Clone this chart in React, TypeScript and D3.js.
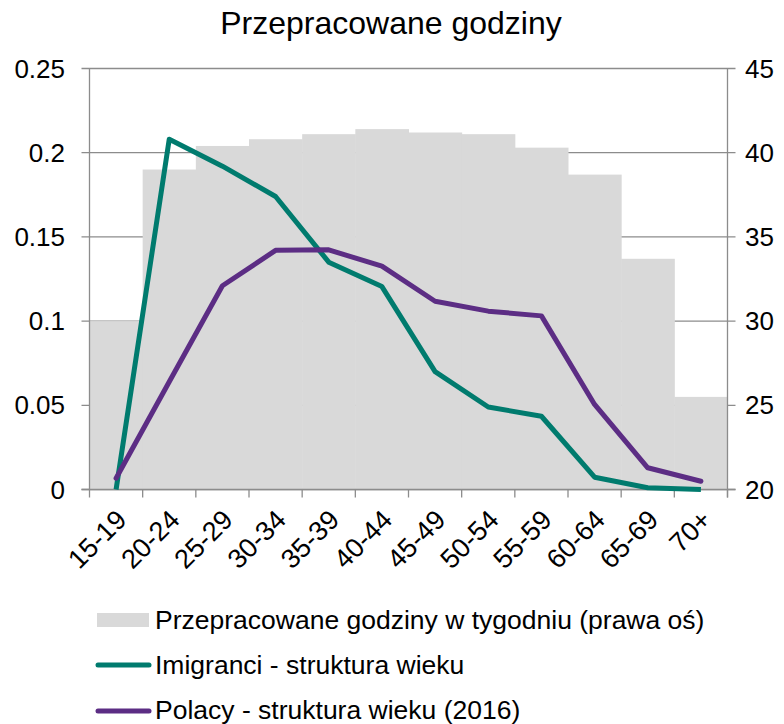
import React from "react";
import * as d3 from "d3";

const categories = ["15-19","20-24","25-29","30-34","35-39","40-44","45-49","50-54","55-59","60-64","65-69","70+"];
const hours = [30.0, 39.0, 40.4, 40.8, 41.1, 41.4, 41.2, 41.1, 40.3, 38.7, 33.7, 25.5];
const immigrants = [0.0, 0.208, 0.192, 0.174, 0.135, 0.1205, 0.070, 0.049, 0.0435, 0.0073, 0.001, 0.0];
const poles = [0.0067, 0.064, 0.121, 0.142, 0.1423, 0.1326, 0.1118, 0.1059, 0.1031, 0.0505, 0.0129, 0.0049];
const leftTicks = [0, 0.05, 0.1, 0.15, 0.2, 0.25];
const rightTicks = [20, 25, 30, 35, 40, 45];

const W = 784, H = 724;
const L = 89.5, R = 727.5, T = 68.5, B = 489.5;
const FONT = "'Liberation Sans', Arial, sans-serif";
const TEAL = "#007b6e";
const PURPLE = "#5c2d84";
const BAR = "#d9d9d9";
const GRID = "#8c8c8c";

export default function App() {
  const x = d3.scaleBand().domain(categories).range([L, R]).padding(0);
  const yL = d3.scaleLinear().domain([0, 0.25]).range([B, T]);
  const yR = d3.scaleLinear().domain([20, 45]).range([B, T]);
  const cx = (c: string) => (x(c) as number) + x.bandwidth() / 2;
  const line = d3.line<number>().x((_, i) => cx(categories[i])).y(d => yL(d));
  const bandEdges = categories.map(c => x(c) as number).concat([R]);

  return (
    <svg width={W} height={H} style={{ position: "absolute", left: 0, top: 0 }} fontFamily={FONT}>
      <rect width={W} height={H} fill="#fff" />
      <text x={391} y={34} textAnchor="middle" fontSize={32} fill="#000">Przepracowane godziny</text>
      {leftTicks.map(t => (
        <line key={t} x1={L - 8} x2={R + 8} y1={yL(t)} y2={yL(t)} stroke={GRID} strokeWidth={1.3} />
      ))}
      {categories.map((c, i) => (
        <rect key={c} x={x(c) as number} width={x.bandwidth() + 0.5} y={yR(hours[i])} height={B - yR(hours[i])} fill={BAR} />
      ))}
      <line x1={L} x2={L} y1={T} y2={B} stroke={GRID} strokeWidth={1.3} />
      <line x1={R} x2={R} y1={T} y2={B + 8} stroke={GRID} strokeWidth={1.3} />
      <line x1={L - 8} x2={R + 8} y1={B} y2={B} stroke={GRID} strokeWidth={1.3} />
      {bandEdges.map((e, i) => (
        <line key={i} x1={e} x2={e} y1={B} y2={B + 8} stroke={GRID} strokeWidth={1.3} />
      ))}
      {leftTicks.map(t => (
        <text key={t} x={65} y={yL(t) + 9} textAnchor="end" fontSize={26} fill="#000">{String(t)}</text>
      ))}
      {rightTicks.map(t => (
        <text key={t} x={745} y={yR(t) + 9} textAnchor="start" fontSize={26} fill="#000">{t}</text>
      ))}
      {categories.map(c => (
        <text key={c} transform={`translate(${cx(c) + 12},${B + 32}) rotate(-45)`} textAnchor="end" fontSize={27} fill="#000">{c}</text>
      ))}
      <path d={line(immigrants) as string} fill="none" stroke={TEAL} strokeWidth={5} strokeLinejoin="round" />
      <path d={line(poles) as string} fill="none" stroke={PURPLE} strokeWidth={5} strokeLinejoin="round" strokeLinecap="round" />
      <g fontSize={26.5} fill="#000">
        <rect x={97} y={613} width={52} height={14} fill={BAR} />
        <text x={155} y={629}>Przepracowane godziny w tygodniu (prawa oś)</text>
        <line x1={98} x2={149} y1={665} y2={665} stroke={TEAL} strokeWidth={5} strokeLinecap="round" />
        <text x={155} y={674}>Imigranci - struktura wieku</text>
        <line x1={98} x2={149} y1={711} y2={711} stroke={PURPLE} strokeWidth={5} strokeLinecap="round" />
        <text x={155} y={719}>Polacy - struktura wieku (2016)</text>
      </g>
    </svg>
  );
}
